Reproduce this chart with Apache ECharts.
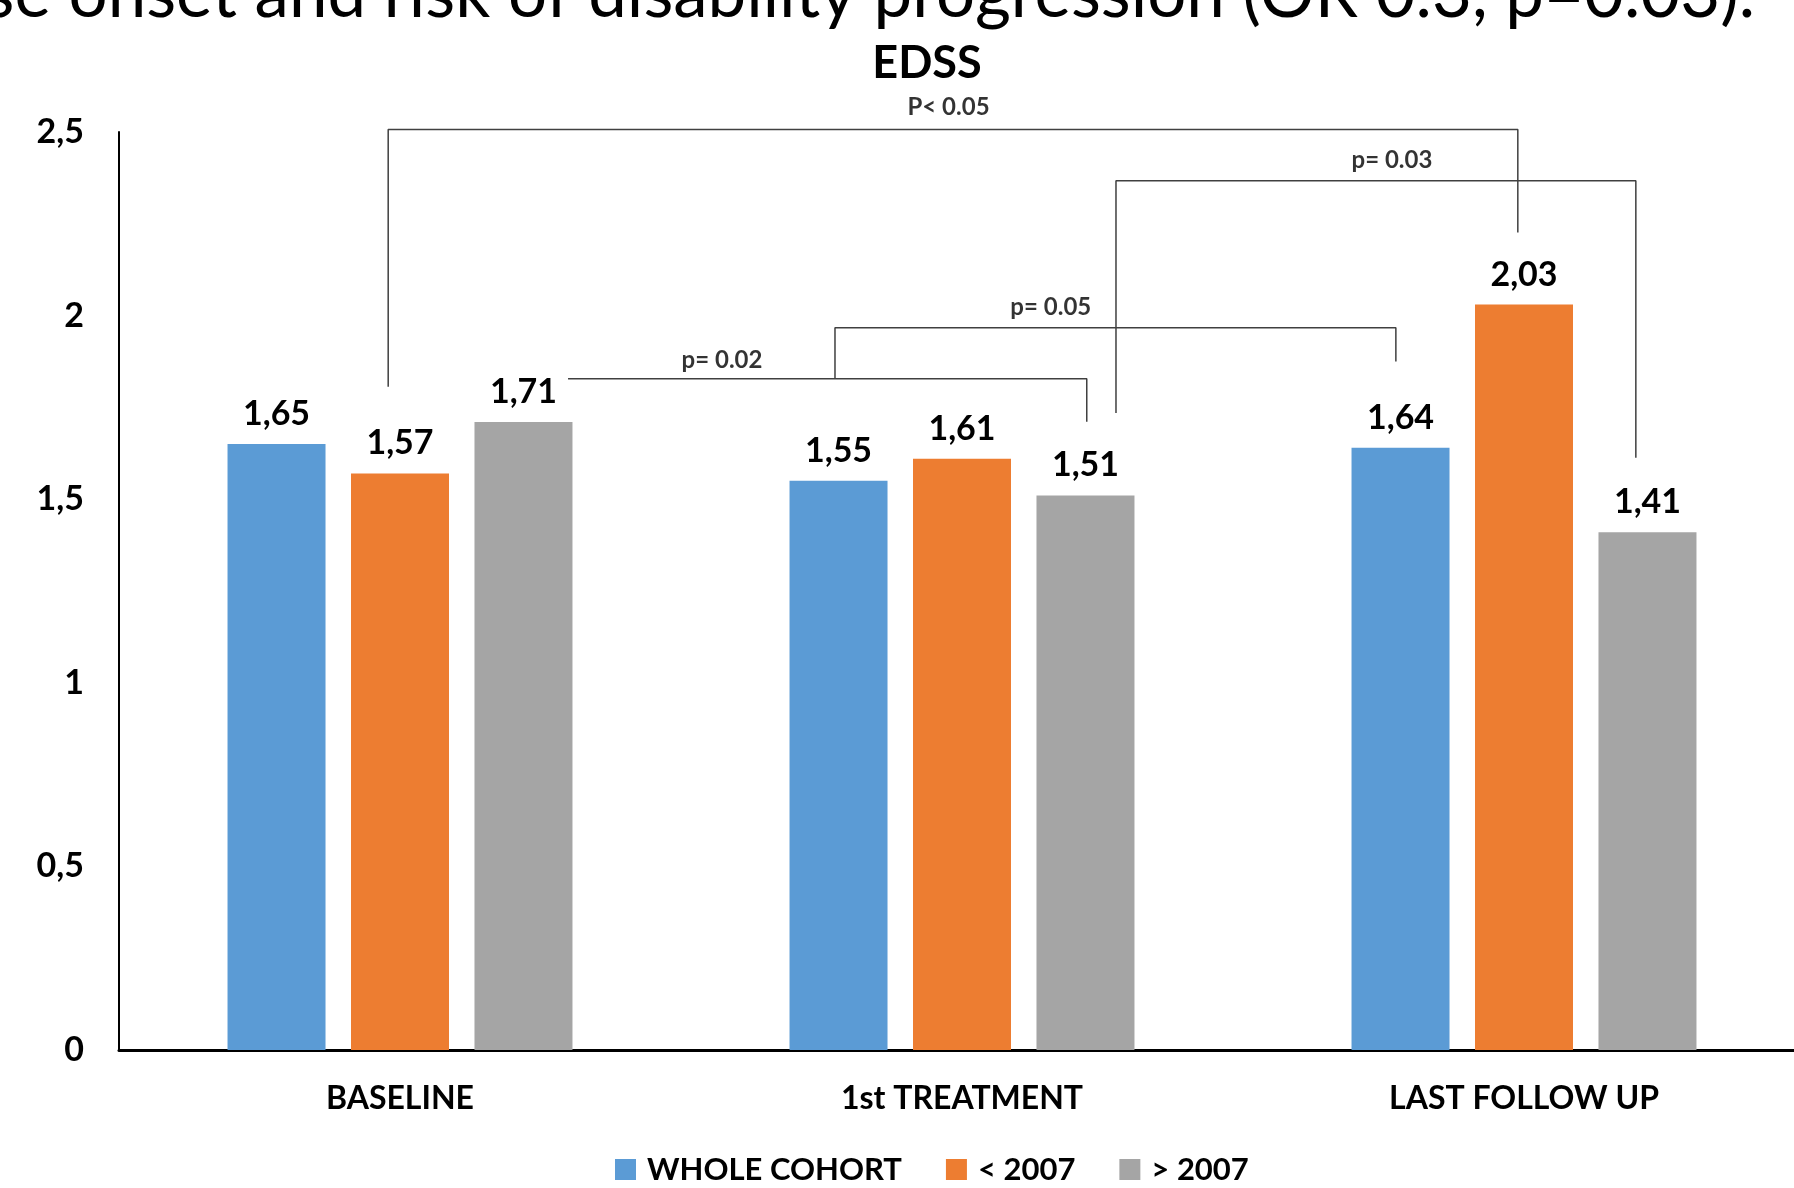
<!DOCTYPE html>
<html>
<head>
<meta charset="utf-8">
<script src="https://cdn.jsdelivr.net/npm/echarts@6/dist/echarts.min.js"></script>
<style>
html,body{margin:0;padding:0;background:#fff;}
#chart{width:1794px;height:1188px;}
</style>
</head>
<body>
<div id="chart"></div>
<script>
// ---- data ----
var categories = ['BASELINE', '1st TREATMENT', 'LAST FOLLOW UP'];
var seriesNames = ['WHOLE COHORT', '< 2007', '> 2007'];
var wholeCohort = [1.65, 1.55, 1.64];
var before2007 = [1.57, 1.61, 2.03];
var after2007 = [1.71, 1.51, 1.41];
var yTicks = [0, 0.5, 1, 1.5, 2, 2.5];
// significance brackets: path in (category units, EDSS value), label and label anchor
var bracketLabels = ['P< 0.05', 'p= 0.03', 'p= 0.05', 'p= 0.02'];
var bracketPaths = [
  [[0.479, 1.806], [0.479, 2.507], [2.489, 2.507], [2.489, 2.226]],
  [[1.774, 1.735], [1.774, 2.367], [2.699, 2.367], [2.699, 1.613]],
  [[1.274, 1.828], [1.274, 1.967], [2.272, 1.967], [2.272, 1.875]],
  [[0.799, 1.828], [1.722, 1.828], [1.722, 1.711]]
];
var bracketLabelPos = [[1.476, 2.566], [2.265, 2.424], [1.658, 2.023], [1.073, 1.877]];
var titleText = 'EDSS';
var topText = 'se onset and risk of disability progression (OR 0.3, p=0.03).';

var colors = ['#5B9BD5', '#ED7D31', '#A5A5A5'];
var FONT = 'Lato, "Open Sans", sans-serif';
function comma(v) { return String(v).replace('.', ','); }

var chart = echarts.init(document.getElementById('chart'), null, {renderer: 'canvas'});

var valueArrays = [wholeCohort, before2007, after2007];
var series = valueArrays.map(function (arr, i) {
  return {
    name: seriesNames[i],
    type: 'bar',
    data: arr,
    barWidth: 98,
    barGap: '26%',
    itemStyle: {color: colors[i]},
    label: {
      show: true,
      position: 'top',
      distance: 13,
      fontFamily: FONT,
      fontWeight: 'bold',
      fontSize: 34,
      color: '#000',
      formatter: function (p) { return p.value.toFixed(2).replace('.', ','); }
    }
  };
});

bracketPaths.forEach(function (path, i) {
  series.push({
    type: 'line',
    xAxisIndex: 1,
    data: path,
    symbol: 'none',
    clip: false,
    silent: true,
    z: 5,
    lineStyle: {color: '#404040', width: 1.5}
  });
});

series.push({
  type: 'scatter',
  xAxisIndex: 1,
  symbolSize: 0,
  clip: false,
  silent: true,
  z: 6,
  data: bracketLabelPos.map(function (p, i) { return {value: p, name: bracketLabels[i]}; }),
  label: {
    show: true,
    position: 'inside',
    formatter: '{b}',
    fontFamily: FONT,
    fontWeight: 'bold',
    fontSize: 24,
    color: '#000'
  }
});

chart.setOption({
  animation: false,
  backgroundColor: '#fff',
  color: colors,
  title: {
    text: titleText,
    left: 922,
    textAlign: 'center',
    top: 36,
    textStyle: {fontFamily: FONT, fontWeight: 'bold', fontSize: 45, color: '#000'}
  },
  legend: {
    data: seriesNames,
    left: 610,
    top: 1149,
    itemWidth: 21,
    itemHeight: 21,
    itemGap: 44,
    icon: 'rect',
    textStyle: {fontFamily: FONT, fontWeight: 'bold', fontSize: 31, color: '#000', padding: [0, 0, 0, 6]}
  },
  grid: {left: 119, width: 1686, top: 132, bottom: 138, containLabel: false, outerBoundsMode: 'none'},
  xAxis: [{
    type: 'category',
    data: categories,
    axisLine: {show: true, lineStyle: {color: '#000', width: 3}},
    axisTick: {show: false},
    axisLabel: {margin: 33, fontFamily: FONT, fontWeight: 'bold', fontSize: 32, color: '#000'}
  }, {
    type: 'value',
    min: 0,
    max: 3,
    show: false
  }],
  yAxis: {
    type: 'value',
    min: yTicks[0],
    max: yTicks[yTicks.length - 1],
    interval: yTicks[1] - yTicks[0],
    axisLine: {show: true, lineStyle: {color: '#000', width: 2}},
    axisTick: {show: false},
    splitLine: {show: false},
    axisLabel: {margin: 35, fontFamily: FONT, fontWeight: 'bold', fontSize: 34, color: '#000', formatter: comma}
  },
  graphic: [{
    type: 'text',
    right: 39,
    top: -40,
    style: {text: topText, fontFamily: FONT, fontSize: 69, fill: '#000'}
  }],
  series: series
});
</script>
</body>
</html>
